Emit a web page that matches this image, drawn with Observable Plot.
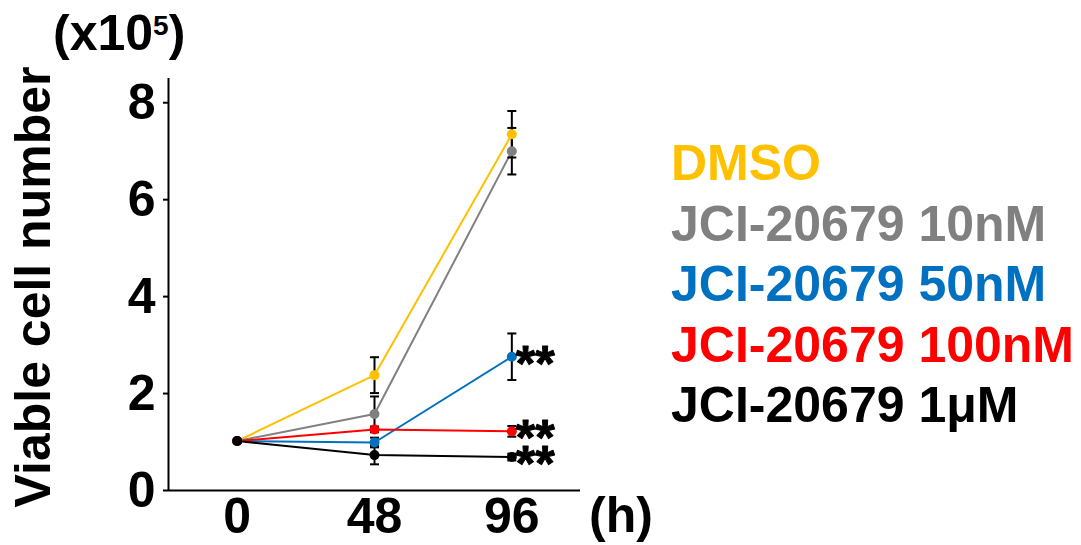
<!DOCTYPE html>
<html>
<head>
<meta charset="utf-8">
<script src="https://cdn.jsdelivr.net/npm/d3@7"></script>
<script src="https://cdn.jsdelivr.net/npm/@observablehq/plot@0.6"></script>
<style>
  html, body { margin: 0; padding: 0; background: #fff; }
  #chart svg { display: block; }
</style>
</head>
<body>
<div id="chart"></div>
<script>
// ---- data ----
const hours = [0, 48, 96];
const seriesNames = ["DMSO", "JCI-20679 10nM", "JCI-20679 50nM", "JCI-20679 100nM", "JCI-20679 1μM"];
const seriesColors = ["#FFC000", "#808080", "#0070C0", "#FF0000", "#000000"];
const meanDMSO = [1.02, 2.38, 7.35];
const mean10nM = [1.02, 1.58, 7.00];
const mean50nM = [1.02, 0.99, 2.76];
const mean100nM = [1.02, 1.26, 1.22];
const mean1uM = [1.02, 0.73, 0.69];
const sdDMSO = [0, 0.37, 0.48];
const sd10nM = [0, 0.36, 0.48];
const sd50nM = [0, 0.10, 0.48];
const sd100nM = [0, 0.06, 0.11];
const sd1uM = [0, 0.19, 0.07];
const significant = ["JCI-20679 50nM", "JCI-20679 100nM", "JCI-20679 1μM"]; // "**" at 96 h
const yTicks = [0, 2, 4, 6, 8];
const xDomain = [-24, 120];
const yDomain = [0, 8.5];

const means = [meanDMSO, mean10nM, mean50nM, mean100nM, mean1uM];
const sds = [sdDMSO, sd10nM, sd50nM, sd100nM, sd1uM];

const rows = [];
seriesNames.forEach((s, i) => hours.forEach((h, j) => rows.push({series: s, hour: h, mean: means[i][j], sd: sds[i][j]})));
const errRows = rows.filter(d => d.sd > 0);
const capRows = errRows.flatMap(d => [{...d, y: d.mean + d.sd}, {...d, y: d.mean - d.sd}]);
const starRows = rows.filter(d => d.hour === hours[hours.length - 1] && significant.includes(d.series));

const capSymbol = {
  draw(context, size) {
    const r = Math.sqrt(size / Math.PI);
    context.moveTo(-r, 0);
    context.lineTo(r, 0);
  }
};

const font = "'Liberation Sans', Arial, sans-serif";

const chart = Plot.plot({
  width: 1081,
  height: 545,
  marginLeft: 168,
  marginRight: 501,
  marginTop: 78,
  marginBottom: 55,
  style: {fontFamily: font, fontWeight: "bold", fontSize: "50px", color: "#000", background: "#fff"},
  x: {domain: xDomain},
  y: {domain: yDomain},
  color: {domain: seriesNames, range: seriesColors},
  marks: [
    Plot.axisX({ticks: hours, tickSize: 0, tickPadding: 7, fontSize: 50, fontWeight: "bold", label: null, tickFormat: d => String(d)}),
    Plot.axisY({ticks: yTicks, tickSize: 5, tickPadding: 8, strokeWidth: 2, fontSize: 50, fontWeight: "bold", label: null, tickFormat: d => String(d)}),
    Plot.ruleY([yDomain[0]], {stroke: "#000", strokeWidth: 2}),
    Plot.ruleX([xDomain[0]], {stroke: "#000", strokeWidth: 2}),
    Plot.line(rows, {x: "hour", y: "mean", z: "series", stroke: "series", strokeWidth: 2}),
    Plot.ruleX(errRows, {x: "hour", y1: d => d.mean - d.sd, y2: d => d.mean + d.sd, stroke: "#000", strokeWidth: 2}),
    Plot.dot(capRows, {x: "hour", y: "y", r: 4.5, symbol: capSymbol, fill: "none", stroke: "#000", strokeWidth: 2}),
    Plot.dot(rows, {x: "hour", y: "mean", r: 5, fill: "series", stroke: "none"}),
    Plot.text(starRows, {x: "hour", y: "mean", text: () => "**", textAnchor: "start", lineAnchor: "middle", dx: 4, dy: 8, fontSize: 50, fontWeight: "bold", fill: "#000", stroke: "#000", strokeWidth: 1})
  ]
});

document.getElementById("chart").appendChild(chart);

// ---- surrounding texts (titles, legend) ----
const svg = d3.select(chart);
const t = svg.append("g")
  .attr("font-family", font)
  .attr("font-weight", "bold")
  .attr("font-size", 50)
  .attr("text-anchor", "start")
  .attr("fill", "#000");

// y-axis title
t.append("text")
  .attr("transform", "translate(50,287) rotate(-90)")
  .attr("text-anchor", "middle")
  .text("Viable cell number");

// unit label
const unit = t.append("text").attr("x", 53).attr("y", 50);
unit.append("tspan").text("(x10");
unit.append("tspan").attr("font-size", 28).attr("dy", -15).text("5");
unit.append("tspan").attr("dy", 15).text(")");

// x unit
t.append("text").attr("x", 589).attr("y", 532).text("(h)");

// legend
seriesNames.forEach((s, i) => {
  t.append("text")
    .attr("x", 671)
    .attr("y", 180 + i * 60.5)
    .attr("fill", seriesColors[i])
    .text(s);
});
</script>
</body>
</html>
